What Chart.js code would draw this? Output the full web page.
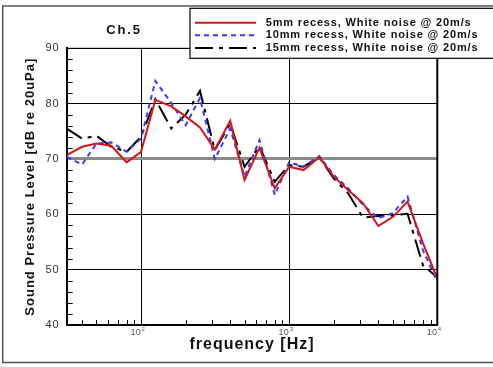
<!DOCTYPE html>
<html>
<head>
<meta charset="utf-8">
<script src="https://cdn.jsdelivr.net/npm/chart.js@4"></script>
<style>
  html, body { margin: 0; padding: 0; background: #fff; }
  canvas { display: block; }
</style>
</head>
<body>
<canvas id="chart" width="493" height="367"></canvas>
<script>
// 1/3 octave band centre frequencies [Hz]
const freqs = [31.5, 40, 50, 63, 80, 100, 125, 160, 200, 250, 315, 400, 500, 630, 800, 1000, 1250, 1600, 2000, 2500, 3150, 4000, 5000, 6300, 8000, 10000];

// SPL [dB re 20uPa]
const spl5mm  = [70.7, 72.2, 72.8, 72.4, 69.4, 71.3, 80.7, 79.5, 77.7, 75.7, 71.7, 76.9, 66.2, 72.0, 64.7, 68.6, 68.0, 70.3, 66.8, 64.4, 62.0, 57.9, 59.5, 62.3, 54.8, 48.4];
const spl10mm = [70.4, 69.0, 72.8, 73.0, 71.3, 73.7, 84.1, 80.1, 76.1, 81.0, 70.0, 75.5, 66.8, 73.4, 63.5, 69.4, 68.6, 70.5, 67.1, 64.7, 61.7, 59.3, 60.2, 63.2, 53.5, 47.8];
const spl15mm = [75.5, 73.7, 74.2, 72.2, 71.3, 74.0, 80.8, 75.5, 78.0, 82.3, 71.6, 76.4, 68.6, 72.3, 65.9, 68.9, 68.6, 70.3, 66.5, 63.8, 59.4, 59.7, 59.8, 60.1, 50.8, 48.6];

const seriesLabels = [
  '5mm recess, White noise @ 20m/s',
  '10mm recess, White noise @ 20m/s',
  '15mm recess, White noise @ 20m/s'
];
const chartTitle = 'Ch.5';
const xTickValues = [100, 1000, 10000];
const xTickExponents = ['2', '3', '4'];
const yTickValues = [40, 50, 60, 70, 80, 90];

const toPoints = (ys) => freqs.map((f, i) => ({ x: f, y: ys[i] }));

// frame, minor ticks, x labels, title and legend
const extras = {
  id: 'extras',
  beforeDraw(chart) {
    chart.ctx.letterSpacing = '1px';
  },
  afterDraw(chart) {
    const { ctx, chartArea: a, scales: { x, y } } = chart;
    ctx.save();

    // outer figure frame
    ctx.strokeStyle = '#555';
    ctx.lineWidth = 1.5;
    ctx.strokeRect(2.7, 6, 500, 356.5);

    // plot frame top / right
    ctx.strokeStyle = '#000';
    ctx.lineWidth = 1;
    ctx.beginPath();
    ctx.moveTo(a.left, a.top);
    ctx.lineTo(a.right, a.top);
    ctx.stroke();
    ctx.lineWidth = 2;
    ctx.beginPath();
    ctx.moveTo(a.right, a.top);
    ctx.lineTo(a.right, a.bottom);
    ctx.stroke();

    // minor ticks
    ctx.lineWidth = 1;
    ctx.beginPath();
    [10, 100, 1000].forEach(d => {
      for (let m = 2; m <= 9; m++) {
        const v = m * d;
        if (v < x.min || v > x.max) continue;
        const px = Math.round(x.getPixelForValue(v)) + 0.5;
        ctx.moveTo(px, a.bottom);
        ctx.lineTo(px, a.bottom - 5);
      }
    });
    for (let v = y.min + 2; v < y.max; v += 2) {
      if (v % 10 === 0) continue;
      const py = Math.round(y.getPixelForValue(v)) + 0.5;
      ctx.moveTo(a.left, py);
      ctx.lineTo(a.left + 6, py);
    }
    ctx.stroke();

    // x tick labels 10^n
    ctx.letterSpacing = '0.3px';
    ctx.fillStyle = '#555';
    ctx.textBaseline = 'middle';
    xTickValues.forEach((v, i) => {
      const px = x.getPixelForValue(v);
      ctx.font = '9px Arial, "Liberation Sans", sans-serif';
      const w = ctx.measureText('10').width;
      ctx.textAlign = 'left';
      ctx.fillText('10', px - w, 332.5);
      ctx.font = '6px Arial, "Liberation Sans", sans-serif';
      ctx.fillText(xTickExponents[i], px + 0.5, 329);
    });

    // title
    ctx.fillStyle = '#111';
    ctx.letterSpacing = '1.8px';
    ctx.font = 'bold 13px Arial, "Liberation Sans", sans-serif';
    ctx.textAlign = 'center';
    ctx.fillText(chartTitle, 124, 30);

    // legend box
    ctx.fillStyle = '#fff';
    ctx.fillRect(190, 8.3, 310, 50);
    ctx.strokeStyle = '#000';
    ctx.lineWidth = 1.2;
    ctx.strokeRect(190, 8.3, 310, 50);
    const rows = [22.7, 35.3, 48];
    chart.data.datasets.forEach((ds, i) => {
      ctx.save();
      ctx.strokeStyle = ds.borderColor;
      ctx.lineWidth = ds.borderWidth;
      ctx.setLineDash(ds.borderDash || []);
      ctx.beginPath();
      ctx.moveTo(195, rows[i]);
      ctx.lineTo(256, rows[i]);
      ctx.stroke();
      ctx.restore();
      ctx.fillStyle = '#111';
      ctx.letterSpacing = '0.85px';
      ctx.font = 'bold 11px Arial, "Liberation Sans", sans-serif';
      ctx.textAlign = 'left';
      ctx.fillText(ds.label, 265.7, rows[i]);
    });

    ctx.restore();
  }
};

new Chart(document.getElementById('chart'), {
  type: 'line',
  data: {
    datasets: [
      {
        label: seriesLabels[0],
        data: toPoints(spl5mm),
        borderColor: '#d01818',
        borderWidth: 2,
        pointRadius: 0,
        fill: false,
        tension: 0
      },
      {
        label: seriesLabels[1],
        data: toPoints(spl10mm),
        borderColor: '#3a3aff',
        borderWidth: 2,
        borderDash: [5, 4],
        pointRadius: 0,
        fill: false,
        tension: 0
      },
      {
        label: seriesLabels[2],
        data: toPoints(spl15mm),
        borderColor: '#000',
        borderWidth: 2,
        borderDash: [18, 6, 4, 6],
        pointRadius: 0,
        fill: false,
        tension: 0
      }
    ]
  },
  options: {
    responsive: false,
    animation: false,
    devicePixelRatio: 1,
    layout: { padding: { left: 0, top: 48.3, right: 55.7, bottom: 0 } },
    plugins: {
      legend: { display: false },
      title: { display: false },
      tooltip: { enabled: false }
    },
    scales: {
      x: {
        type: 'logarithmic',
        min: 31.5,
        max: 10000,
        afterBuildTicks: (scale) => {
          scale.ticks = xTickValues.map(v => ({ value: v }));
        },
        afterFit: (scale) => { scale.height = 42; },
        ticks: { display: false },
        grid: { color: '#000', lineWidth: 1, drawTicks: false },
        border: { display: true, color: '#000', width: 2 },
        title: {
          display: true,
          text: 'frequency [Hz]',
          color: '#111',
          font: { family: 'Arial, "Liberation Sans", sans-serif', size: 16, weight: 'bold' },
          padding: { top: 0, bottom: 13 }
        }
      },
      y: {
        min: 40,
        max: 90,
        afterBuildTicks: (scale) => {
          scale.ticks = yTickValues.map(v => ({ value: v }));
        },
        afterFit: (scale) => { scale.width = 66.7; },
        ticks: {
          color: '#333',
          padding: 7,
          font: { family: 'Arial, "Liberation Sans", sans-serif', size: 11 }
        },
        grid: {
          drawTicks: false,
          color: (c) => c.tick && c.tick.value === 70 ? '#8a8a8a' : '#000',
          lineWidth: (c) => c.tick && c.tick.value === 70 ? 3 : 1
        },
        border: { display: true, color: '#000', width: 2 },
        title: {
          display: true,
          text: 'Sound Pressure Level [dB re 20uPa]',
          color: '#111',
          font: { family: 'Arial, "Liberation Sans", sans-serif', size: 13, weight: 'bold' },
          padding: { top: 23, bottom: 0 }
        }
      }
    }
  },
  plugins: [extras]
});
</script>
</body>
</html>
